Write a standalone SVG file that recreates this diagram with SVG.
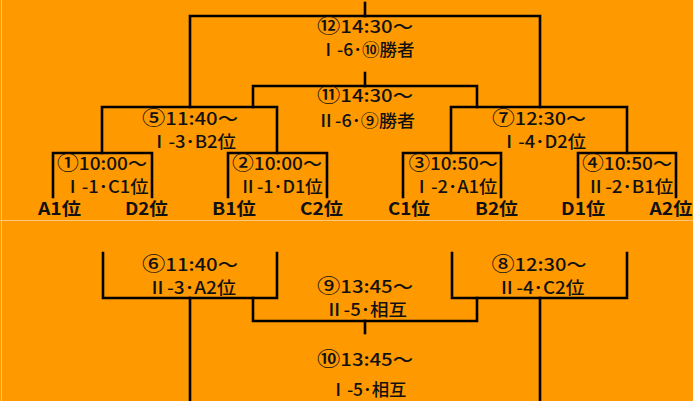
<svg xmlns="http://www.w3.org/2000/svg" width="693" height="401" viewBox="0 0 693 401">
  <style>
    .bg { fill: #FF9900; }
    .edge { stroke: #FFC77A; stroke-width: 1; fill: none; }
    .conn { stroke: #000; stroke-width: 2.6; fill: none; stroke-linecap: square; }
    .m { font-family: "Noto Sans CJK JP", "Noto Sans", sans-serif; font-size: 17px; font-weight: 500; fill: #111; text-anchor: middle; }
    .t { font-family: "Noto Sans CJK JP", "Noto Sans", sans-serif; font-size: 17px; font-weight: bold; fill: #111; text-anchor: middle; }
    .c { font-size: 19.5px; }
  </style>
  <rect class="bg" x="0" y="0" width="693" height="401"/>
  <line class="edge" x1="1.5" y1="0" x2="1.5" y2="401"/>
  <line class="edge" x1="0" y1="220.5" x2="693" y2="220.5"/>

  <g id="connectors">
    <path class="conn" d="M365,3 V16"/>
    <path class="conn" d="M190,107 V16 H540 V107"/>
    <path class="conn" d="M365,73 V86"/>
    <path class="conn" d="M253,107 V86 H477 V107"/>
    <path class="conn" d="M102,153 V107 H277 V153"/>
    <path class="conn" d="M451,153 V107 H627 V153"/>
    <path class="conn" d="M53,197 V153 H152 V197"/>
    <path class="conn" d="M228,197 V153 H327 V197"/>
    <path class="conn" d="M403,197 V153 H501 V197"/>
    <path class="conn" d="M578,197 V153 H676 V197"/>
    <path class="conn" d="M103,253 V298 H277 V253"/>
    <path class="conn" d="M452,253 V298 H627 V253"/>
    <path class="conn" d="M190,298 V401"/>
    <path class="conn" d="M540,298 V401"/>
    <path class="conn" d="M253,298 V321 H477 V298"/>
    <path class="conn" d="M365,321 V333"/>
  </g>

  <g id="match12">
    <text class="m"><tspan x="365" y="33" textLength="96" lengthAdjust="spacingAndGlyphs"><tspan class="c">⑫</tspan>14:30～</tspan><tspan x="367" y="56" textLength="95" lengthAdjust="spacingAndGlyphs">Ⅰ-6･⑩勝者</tspan></text>
  </g>
  <g id="match11">
    <text class="m"><tspan x="365" y="102" textLength="96" lengthAdjust="spacingAndGlyphs"><tspan class="c">⑪</tspan>14:30～</tspan><tspan x="366" y="127" textLength="98" lengthAdjust="spacingAndGlyphs">Ⅱ-6･⑨勝者</tspan></text>
  </g>
  <g id="match5">
    <text class="m"><tspan x="190" y="125" textLength="96" lengthAdjust="spacingAndGlyphs"><tspan class="c">⑤</tspan>11:40～</tspan><tspan x="193" y="148" textLength="86" lengthAdjust="spacingAndGlyphs">Ⅰ-3･B2位</tspan></text>
  </g>
  <g id="match7">
    <text class="m"><tspan x="539" y="125" textLength="94" lengthAdjust="spacingAndGlyphs"><tspan class="c">⑦</tspan>12:30～</tspan><tspan x="543" y="148" textLength="86" lengthAdjust="spacingAndGlyphs">Ⅰ-4･D2位</tspan></text>
  </g>
  <g id="match1">
    <text class="m"><tspan x="102" y="170" textLength="90" lengthAdjust="spacingAndGlyphs"><tspan class="c">①</tspan>10:00～</tspan><tspan x="106" y="193" textLength="85" lengthAdjust="spacingAndGlyphs">Ⅰ-1･C1位</tspan></text>
  </g>
  <g id="match2">
    <text class="m"><tspan x="277" y="170" textLength="90" lengthAdjust="spacingAndGlyphs"><tspan class="c">②</tspan>10:00～</tspan><tspan x="281" y="193" textLength="84" lengthAdjust="spacingAndGlyphs">Ⅱ-1･D1位</tspan></text>
  </g>
  <g id="match3">
    <text class="m"><tspan x="453" y="170" textLength="89" lengthAdjust="spacingAndGlyphs"><tspan class="c">③</tspan>10:50～</tspan><tspan x="455" y="193" textLength="85" lengthAdjust="spacingAndGlyphs">Ⅰ-2･A1位</tspan></text>
  </g>
  <g id="match4">
    <text class="m"><tspan x="627" y="170" textLength="90" lengthAdjust="spacingAndGlyphs"><tspan class="c">④</tspan>10:50～</tspan><tspan x="630" y="193" textLength="87" lengthAdjust="spacingAndGlyphs">Ⅱ-2･B1位</tspan></text>
  </g>

  <g id="team-A1"><text class="t" x="59.5" y="215" textLength="43" lengthAdjust="spacingAndGlyphs">A1位</text></g>
  <g id="team-D2"><text class="t" x="146.5" y="215" textLength="43" lengthAdjust="spacingAndGlyphs">D2位</text></g>
  <g id="team-B1"><text class="t" x="234" y="215" textLength="44" lengthAdjust="spacingAndGlyphs">B1位</text></g>
  <g id="team-C2"><text class="t" x="321.5" y="215" textLength="43" lengthAdjust="spacingAndGlyphs">C2位</text></g>
  <g id="team-C1"><text class="t" x="409" y="215" textLength="42" lengthAdjust="spacingAndGlyphs">C1位</text></g>
  <g id="team-B2"><text class="t" x="496.5" y="215" textLength="43" lengthAdjust="spacingAndGlyphs">B2位</text></g>
  <g id="team-D1"><text class="t" x="583" y="215" textLength="44" lengthAdjust="spacingAndGlyphs">D1位</text></g>
  <g id="team-A2"><text class="t" x="671" y="215" textLength="43" lengthAdjust="spacingAndGlyphs">A2位</text></g>

  <g id="match6">
    <text class="m"><tspan x="190" y="271" textLength="96" lengthAdjust="spacingAndGlyphs"><tspan class="c">⑥</tspan>11:40～</tspan><tspan x="192" y="294" textLength="88" lengthAdjust="spacingAndGlyphs">Ⅱ-3･A2位</tspan></text>
  </g>
  <g id="match8">
    <text class="m"><tspan x="539" y="271" textLength="95" lengthAdjust="spacingAndGlyphs"><tspan class="c">⑧</tspan>12:30～</tspan><tspan x="541" y="294" textLength="87" lengthAdjust="spacingAndGlyphs">Ⅱ-4･C2位</tspan></text>
  </g>
  <g id="match9">
    <text class="m"><tspan x="365" y="293" textLength="96" lengthAdjust="spacingAndGlyphs"><tspan class="c">⑨</tspan>13:45～</tspan><tspan x="366" y="316" textLength="82" lengthAdjust="spacingAndGlyphs">Ⅱ-5･相互</tspan></text>
  </g>
  <g id="match10">
    <text class="m"><tspan x="365" y="366" textLength="96" lengthAdjust="spacingAndGlyphs"><tspan class="c">⑩</tspan>13:45～</tspan><tspan x="368" y="396" textLength="77" lengthAdjust="spacingAndGlyphs">Ⅰ-5･相互</tspan></text>
  </g>
</svg>
